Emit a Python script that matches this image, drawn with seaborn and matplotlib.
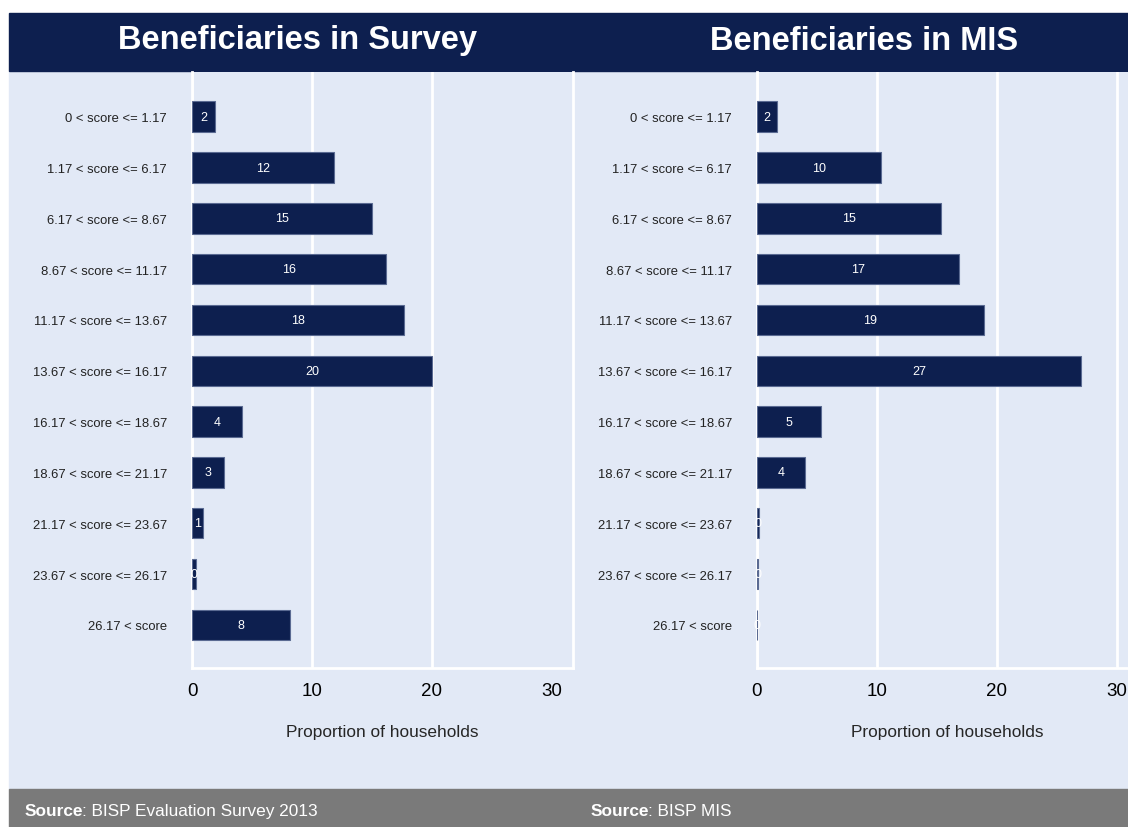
import matplotlib
matplotlib.use("Agg")
import matplotlib.pyplot as plt
import matplotlib.patches as mpatches
import seaborn as sns
import pandas as pd

# Score bins shared by both panels
bins = [
    "0 < score <= 1.17", "1.17 < score <= 6.17", "6.17 < score <= 8.67",
    "8.67 < score <= 11.17", "11.17 < score <= 13.67", "13.67 < score <= 16.17",
    "16.17 < score <= 18.67", "18.67 < score <= 21.17", "21.17 < score <= 23.67",
    "23.67 < score <= 26.17", "26.17 < score",
]
# Share of households (%) per bin
survey = [1.9, 11.8, 15.0, 16.2, 17.7, 20.0, 4.2, 2.7, 0.9, 0.3, 8.2]
mis = [1.7, 10.3, 15.3, 16.8, 18.9, 27.0, 5.3, 4.0, 0.2, 0.1, 0.0]

titles = ["Beneficiaries in Survey", "Beneficiaries in MIS"]
sources = ["BISP Evaluation Survey 2013", "BISP MIS"]
xticks = [0, 10, 20, 30]

NAVY = "#0d1f4f"
PANEL = "#e2e9f6"
GREY = "#7a7a7a"

sns.set_theme(style="white")
plt.rcParams["font.family"] = ["Liberation Sans", "DejaVu Sans"]

W, H = 1128, 828
fig = plt.figure(figsize=(W / 100, H / 100), dpi=100)
fig.patch.set_facecolor("white")

def fx(px):
    return px / W

def fy(py):
    return 1 - py / H

# Background bands: light panel, title banner, source strip
fig.add_artist(mpatches.Rectangle((fx(9), fy(790)), 1, fy(72) - fy(790),
                                  transform=fig.transFigure, color=PANEL, zorder=0))
fig.add_artist(mpatches.Rectangle((fx(9), fy(72)), 1, fy(14) - fy(72),
                                  transform=fig.transFigure, color=NAVY, zorder=0))
fig.add_artist(mpatches.Rectangle((fx(9), 0), 1, fy(790),
                                  transform=fig.transFigure, color=GREY, zorder=0))

ax_w = fx(381)
ax_b = fy(669)
ax_h = fy(73) - fy(669)
lefts = [fx(192), fx(757)]
title_x = [fx(297), fx(864)]
source_x = [fx(25), fx(591)]

for i, vals in enumerate([survey, mis]):
    df = pd.DataFrame({"bin": bins, "value": vals})
    ax = fig.add_axes([lefts[i], ax_b, ax_w, ax_h])
    ax.set_facecolor(PANEL)
    sns.barplot(data=df, y="bin", x="value", orient="h", color=NAVY,
                width=0.6, saturation=1, edgecolor="#5a6a92", linewidth=0.8,
                ax=ax, zorder=3)
    ax.bar_label(ax.containers[0], labels=[f"{v:.0f}" for v in vals],
                 label_type="center", color="white", fontsize=9, zorder=4)
    ax.set_xlim(0, 31.75)
    ax.set_ylim(10.85, -0.88)
    ax.set_xticks(xticks)
    ax.set_xticklabels([str(t) for t in xticks], fontsize=13.5)
    ax.tick_params(axis="x", length=0, pad=10, colors="black")
    ax.tick_params(axis="y", length=0, pad=18, labelsize=9.4, colors="#222222")
    ax.xaxis.grid(True, color="white", linewidth=2, zorder=1)
    ax.yaxis.grid(False)
    if i == 0:
        # the outer frame sits just past 30, so its gridline is left out
        ax.get_xgridlines()[-1].set_visible(False)
    for side in ["left", "bottom", "right"]:
        ax.spines[side].set_visible(True)
        ax.spines[side].set_color("white")
        ax.spines[side].set_linewidth(2)
    ax.spines["top"].set_visible(False)
    ax.set_ylabel("")
    ax.set_xlabel("Proportion of households", fontsize=12.4, labelpad=18)

    fig.text(title_x[i], fy(41), titles[i], ha="center", va="center",
             color="white", fontsize=23.5, fontweight="bold")
    t = fig.text(source_x[i], fy(812), "Source", ha="left", va="center",
                 color="white", fontsize=12.4, fontweight="bold")
    fig.canvas.draw()
    bb = t.get_window_extent()
    fig.text((bb.x1 - 1.5) / W, fy(812), ": " + sources[i], ha="left", va="center",
             color="white", fontsize=12.4)

fig.savefig("out.png", dpi=100)
